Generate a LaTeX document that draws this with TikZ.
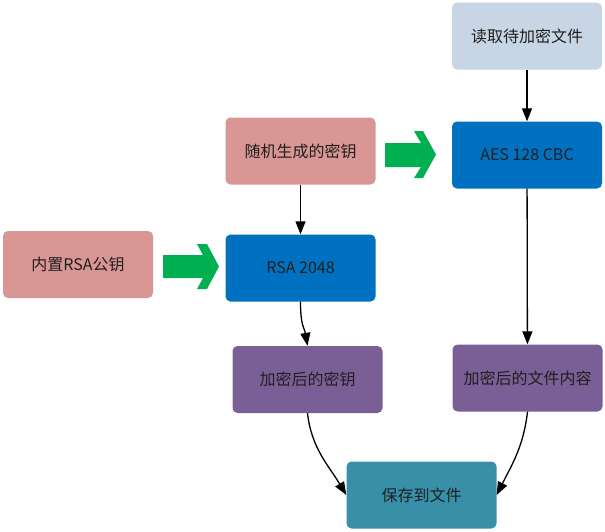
\documentclass[tikz,border=0pt]{standalone}
\usepackage{fontspec}
\setmainfont{Noto Sans CJK SC}
\usetikzlibrary{arrows.meta}
\definecolor{salmon}{HTML}{D99694}
\definecolor{bluebox}{HTML}{0070C0}
\definecolor{purplebox}{HTML}{7A5F96}
\definecolor{tealbox}{HTML}{3790A7}
\definecolor{lightbox}{HTML}{C8D5E5}
\definecolor{greenarrow}{HTML}{00B050}
\begin{document}
\begin{tikzpicture}[x=1pt,y=-1pt,
  box/.style={rounded corners=5pt, minimum width=150pt, minimum height=67pt, inner sep=0pt,
    font=\fontsize{16}{19}\selectfont, text=black!88},
  conn/.style={-{Triangle[length=13pt,width=10pt]}, line width=1.3pt},
  blockarrow/.style={fill=greenarrow}]
\useasboundingbox (0,0) rectangle (605,531);

\node[box, fill=lightbox]  (read)    at (527,36)    {读取待加密文件};
\node[box, fill=salmon]    (rand)    at (300.5,151) {随机生成的密钥};
\node[box, fill=bluebox]   (aes)     at (527,155)   {AES 128 CBC};
\node[box, fill=salmon]    (inner)   at (78,264.5)  {内置RSA公钥};
\node[box, fill=bluebox]   (rsa)     at (300.5,268) {RSA 2048};
\node[box, fill=purplebox] (enckey)  at (307.5,379.5) {加密后的密钥};
\node[box, fill=purplebox] (encfile) at (527.5,378) {加密后的文件内容};
\node[box, fill=tealbox]   (save)    at (421.5,495) {保存到文件};

\fill[blockarrow] (385,143) -- (421,143) -- (414,131) -- (423,131) -- (436,154.5)
  -- (423,178) -- (414,178) -- (421,167) -- (385,167) -- cycle;
\fill[blockarrow] (163,255) -- (203,255) -- (197,244) -- (207,244) -- (219,266.5)
  -- (207,289) -- (197,289) -- (203,278) -- (163,278) -- cycle;

\draw[conn] (read) -- (aes);
\draw[conn] (rand) -- (rsa);
\draw[conn] (aes) -- (encfile);
\draw[conn] (rsa.south) .. controls +(0,25) and +(-3,-18) .. (enckey.north);
\draw[conn] (enckey.south) .. controls +(4,35) and +(-18,-30) .. (save.west);
\draw[conn] (encfile.south) .. controls +(-4,35) and +(15,-30) .. (save.east);
\end{tikzpicture}
\end{document}
